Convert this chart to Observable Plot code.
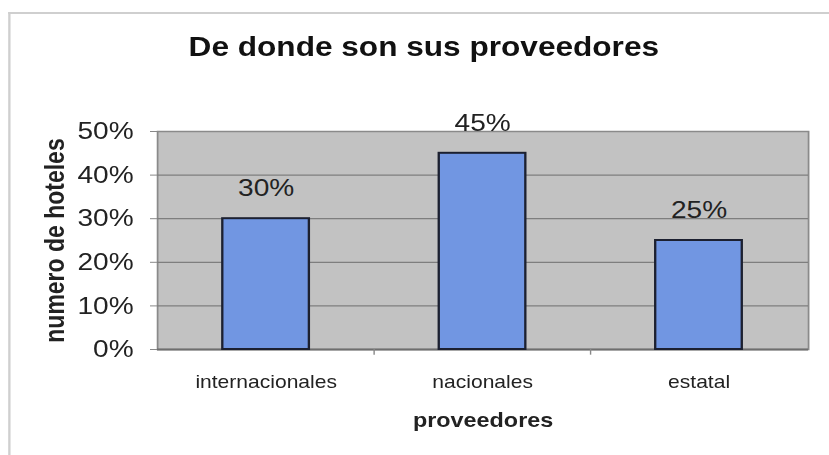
<!DOCTYPE html>
<html>
<head>
<meta charset="utf-8">
<script src="https://cdn.jsdelivr.net/npm/d3@7"></script>
<script src="https://cdn.jsdelivr.net/npm/@observablehq/plot@0.6"></script>
<style>
  html, body { margin: 0; padding: 0; background: #fff; overflow: hidden; }
  #wrap { position: relative; width: 708.5px; height: 455px; font-family: "Liberation Sans", Arial, sans-serif; transform: scaleX(1.17); transform-origin: 0 0; }
  #frame { position: absolute; left: 7px; top: 12px; width: 720px; height: 460px; border-left: 2px solid #cfcfcf; border-top: 2px solid #cfcfcf; }
  #title { position: absolute; left: 8px; width: 708.5px; top: 32px; line-height: 30px; text-align: center; font-weight: bold; font-size: 27px; color: #111; }
  #chart { position: absolute; left: 0; top: 0; }
</style>
</head>
<body>
<div id="wrap">
  <div id="frame"></div>
  <div id="chart"></div>
  <div id="title">De donde son sus proveedores</div>
</div>
<script>
const categories = ["internacionales", "nacionales", "estatal"];
const values = [30, 45, 25];
const yTicks = [0, 10, 20, 30, 40, 50];

const data = categories.map((c, i) => ({cat: c, val: values[i]}));

const W = 708.5, mL = 134.2, mR = 17.9;
const step = (W - mL - mR) / 3;

const chart = Plot.plot({
  width: W,
  height: 455,
  marginLeft: mL,
  marginRight: mR,
  marginTop: 131,
  marginBottom: 106,
  style: {fontFamily: "Liberation Sans, Arial, sans-serif", background: "transparent", overflow: "visible"},
  x: {domain: categories, paddingInner: 0.6, paddingOuter: 0.3, label: null},
  y: {domain: [0, 50], label: null},
  marks: [
    Plot.frame({fill: "#c2c2c2", stroke: "#8a8a8a", strokeWidth: 1.5}),
    Plot.ruleY(yTicks.slice(1, -1), {stroke: "#7e7e7e", strokeWidth: 1.3}),
    Plot.ruleY([0], {stroke: "#6e6e6e", strokeWidth: 1.8}),
    Plot.ruleX(categories.slice(1), {x: d => d, dx: -step / 2, y1: 0, y2: -1.3, stroke: "#888", strokeWidth: 1.2}),
    Plot.barY(data, {x: "cat", y: "val", fill: "#7196e2", stroke: "#1c2030", strokeWidth: 2}),
    Plot.text(data, {x: "cat", y: "val", text: d => d.val + "%", dy: -30, fontSize: 24, fill: "#222"}),
    Plot.axisY({ticks: yTicks, tickFormat: d => d + "%", tickSize: 6, tickPadding: 14.5, fontSize: 24, fill: "#222", stroke: "#888", label: null}),
    Plot.axisX({tickSize: 0, tickPadding: 26, fontSize: 18, fill: "#222", label: null}),
    Plot.text(["proveedores"], {frameAnchor: "bottom", lineAnchor: "middle", dy: 71, fontSize: 20, fontWeight: "bold", fill: "#222"}),
    Plot.text(["numero de hoteles"], {frameAnchor: "left", textAnchor: "middle", lineAnchor: "middle", dx: -87, rotate: -90, fontSize: 23, fontWeight: "bold", fill: "#222"})
  ]
});
document.getElementById("chart").appendChild(chart);
</script>
</body>
</html>
